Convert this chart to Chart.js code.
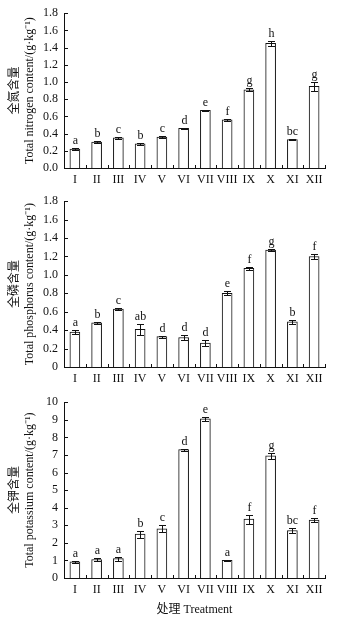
<!DOCTYPE html>
<html>
<head>
<meta charset="utf-8">
<script src="https://cdn.jsdelivr.net/npm/chart.js"></script>
<style>
html, body { margin: 0; padding: 0; background: #fff; }
#wrap { position: relative; width: 343px; height: 622px; overflow: hidden; }
canvas { position: absolute; left: 0; }
</style>
</head>
<body>
<div id="wrap">
  <canvas id="cN" width="343" height="192" style="top:0px"></canvas>
  <canvas id="cP" width="343" height="203" style="top:188px"></canvas>
  <canvas id="cK" width="343" height="233" style="top:389px"></canvas>
</div>
<script>
// Ishlov variantlari (x o'qi)
const treatments = ['I', 'II', 'III', 'IV', 'V', 'VI', 'VII', 'VIII', 'IX', 'X', 'XI', 'XII'];

// Umumiy azot
const nitrogen = [0.22, 0.30, 0.35, 0.28, 0.36, 0.46, 0.67, 0.56, 0.91, 1.45, 0.33, 0.95];
const nitrogenErr = [0.01, 0.015, 0.01, 0.01, 0.015, 0.01, 0.01, 0.01, 0.015, 0.03, 0.008, 0.05];
const nitrogenLetters = ['a', 'b', 'c', 'b', 'c', 'd', 'e', 'f', 'g', 'h', 'bc', 'g'];
const nitrogenTicks = ['0.0', '0.2', '0.4', '0.6', '0.8', '1.0', '1.2', '1.4', '1.6', '1.8'];

// Umumiy fosfor
const phosphorus = [0.38, 0.48, 0.63, 0.41, 0.33, 0.32, 0.26, 0.80, 1.07, 1.27, 0.49, 1.20];
const phosphorusErr = [0.02, 0.01, 0.01, 0.06, 0.01, 0.025, 0.035, 0.02, 0.015, 0.01, 0.025, 0.03];
const phosphorusLetters = ['a', 'b', 'c', 'ab', 'd', 'd', 'd', 'e', 'f', 'g', 'b', 'f'];
const phosphorusTicks = ['0', '0.2', '0.4', '0.6', '0.8', '1.0', '1.2', '1.4', '1.6', '1.8'];

// Umumiy kaliy
const potassium = [0.92, 1.05, 1.10, 2.5, 2.8, 7.3, 9.05, 1.0, 3.35, 6.95, 2.7, 3.3];
const potassiumErr = [0.06, 0.06, 0.12, 0.2, 0.2, 0.06, 0.1, 0.05, 0.25, 0.17, 0.15, 0.13];
const potassiumLetters = ['a', 'a', 'a', 'b', 'c', 'd', 'e', 'a', 'f', 'g', 'bc', 'f'];
const potassiumTicks = ['0', '1', '2', '3', '4', '5', '6', '7', '8', '9', '10'];

const serif = '"Liberation Serif", "Noto Sans CJK SC", serif';
const ink = '#111';

// Xato chiziqlari, harflar va ichki tick belgilar
const marksPlugin = {
  id: 'marks',
  afterDatasetsDraw(chart, args, opts) {
    const ctx = chart.ctx;
    const xs = chart.scales.x, ys = chart.scales.y;
    const vals = chart.data.datasets[0].data;
    ctx.save();
    ctx.strokeStyle = ink;
    ctx.fillStyle = ink;
    ctx.lineWidth = 1;
    ctx.font = '12px ' + serif;
    ctx.textAlign = 'center';
    ctx.textBaseline = 'alphabetic';
    vals.forEach((v, i) => {
      const px = Math.round(xs.getPixelForValue(i)) + 0.5;
      const top = Math.round(ys.getPixelForValue(v + opts.errors[i])) + 0.5;
      const bot = Math.round(ys.getPixelForValue(v - opts.errors[i])) + 0.5;
      ctx.beginPath();
      ctx.moveTo(px, top); ctx.lineTo(px, bot);
      ctx.moveTo(px - 3.5, top); ctx.lineTo(px + 3.5, top);
      ctx.moveTo(px - 3.5, bot); ctx.lineTo(px + 3.5, bot);
      ctx.stroke();
      ctx.fillText(opts.letters[i], px, top - 5);
    });
    // y o'qidagi ichki belgilar
    ctx.beginPath();
    ys.ticks.forEach(t => {
      const py = Math.round(ys.getPixelForValue(t.value)) + 0.5;
      ctx.moveTo(xs.left, py); ctx.lineTo(xs.left + 4, py);
    });
    // x o'qidagi bo'luvchi belgilar
    const n = vals.length;
    for (let i = 1; i <= n; i++) {
      const px = Math.round(xs.left + i * xs.width / n) + 0.5;
      ctx.moveTo(px, ys.bottom); ctx.lineTo(px, ys.bottom - 3);
    }
    ctx.stroke();
    ctx.restore();
  }
};

function makePanel(id, values, errors, letters, tickLabels, max, step, title, xTitle) {
  const ctx = document.getElementById(id).getContext('2d');
  new Chart(ctx, {
    type: 'bar',
    data: {
      labels: treatments,
      datasets: [{
        data: values,
        backgroundColor: '#fff',
        borderColor: ink,
        borderWidth: 1,
        borderSkipped: 'start',
        barThickness: 10
      }]
    },
    options: {
      responsive: false,
      animation: false,
      layout: { padding: { top: 10, right: 18, left: 0, bottom: 0 } },
      plugins: {
        legend: { display: false },
        tooltip: { enabled: false },
        marks: { errors: errors, letters: letters }
      },
      scales: {
        x: {
          grid: { display: false, drawTicks: false },
          border: { display: true, color: ink, width: 1 },
          ticks: { color: ink, font: { family: serif, size: 12 }, padding: 5, maxRotation: 0, autoSkip: false },
          title: xTitle ? { display: true, text: xTitle, color: ink, font: { family: serif, size: 12 }, padding: { top: 2, bottom: 4.8 } } : { display: false },
          afterFit: s => { s.height = xTitle ? 44 : 24; }
        },
        y: {
          min: 0,
          max: max,
          grid: { display: false, drawTicks: false },
          border: { display: true, color: ink, width: 1 },
          ticks: {
            stepSize: step,
            autoSkip: false,
            color: ink,
            font: { family: serif, size: 12 },
            padding: 6,
            callback: (v, i) => tickLabels[i]
          },
          title: { display: true, text: title, color: ink, font: { family: serif, size: 12 }, padding: { top: 7.8, bottom: 0 } },
          afterFit: s => { s.width = 64; }
        }
      }
    },
    plugins: [marksPlugin]
  });
}

makePanel('cN', nitrogen, nitrogenErr, nitrogenLetters, nitrogenTicks, 1.8, 0.2,
  ['全氮含量', 'Total nitrogen content/(g·kg⁻¹)'], null);
makePanel('cP', phosphorus, phosphorusErr, phosphorusLetters, phosphorusTicks, 1.8, 0.2,
  ['全磷含量', 'Total phosphorus content/(g·kg⁻¹)'], null);
makePanel('cK', potassium, potassiumErr, potassiumLetters, potassiumTicks, 10, 1,
  ['全钾含量', 'Total potassium content/(g·kg⁻¹)'], '处理 Treatment');
</script>
</body>
</html>
